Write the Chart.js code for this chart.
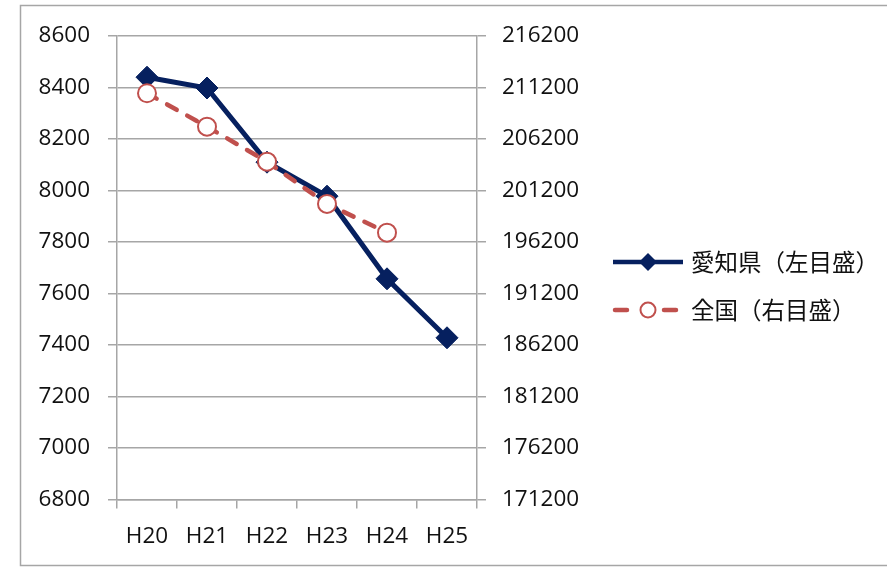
<!DOCTYPE html>
<html>
<head>
<meta charset="utf-8">
<script src="https://cdn.jsdelivr.net/npm/chart.js@4.4.1/dist/chart.umd.min.js"></script>
<style>
  html, body { margin: 0; padding: 0; background: #ffffff; }
  #wrap { position: relative; width: 887px; height: 567px; }
</style>
</head>
<body>
<div id="wrap"><canvas id="chart" width="887" height="567"></canvas></div>
<script>
// Fiscal years (Heisei) on the category axis
const categories = ['H20', 'H21', 'H22', 'H23', 'H24', 'H25'];
// Aichi prefecture, read on the left axis
const aichiValues = [8440, 8398, 8110, 7978, 7657, 7428];
// Nationwide total, read on the right axis (no H25 figure)
const nationalValues = [210640, 207400, 204000, 199900, 197110, null];
// Axis ranges: min, max, step
const leftAxisRange = [6800, 8600, 200];
const rightAxisRange = [171200, 216200, 5000];
// Legend captions
const seriesNames = ['愛知県（左目盛）', '全国（右目盛）'];

const NAVY = '#06205f';
const RED = '#c0504d';
const GRID = '#a6a6a6';
const TEXT = '#111111';
const NUM_FONT = { family: '"Open Sans", "Noto Sans", sans-serif', size: 22.5 };

// Outer frame and a hand-drawn legend showing line + marker samples
const framePlugin = {
  id: 'frameAndLegend',
  beforeDraw(chart) {
    const ctx = chart.ctx;
    ctx.save();
    ctx.fillStyle = '#ffffff';
    ctx.fillRect(0, 0, chart.width, chart.height);
    ctx.strokeStyle = GRID;
    ctx.lineWidth = 1.5;
    ctx.strokeRect(20.5, 5.5, chart.width + 10, 560);
    ctx.restore();
  },
  afterDraw(chart) {
    const ctx = chart.ctx;
    const rows = [262, 310];
    ctx.save();
    // Aichi sample: solid navy line with a diamond
    ctx.strokeStyle = NAVY;
    ctx.lineWidth = 4.5;
    ctx.beginPath();
    ctx.moveTo(613, rows[0]);
    ctx.lineTo(683, rows[0]);
    ctx.stroke();
    ctx.fillStyle = NAVY;
    ctx.beginPath();
    ctx.moveTo(648 - 9, rows[0]);
    ctx.lineTo(648, rows[0] - 9);
    ctx.lineTo(648 + 9, rows[0]);
    ctx.lineTo(648, rows[0] + 9);
    ctx.closePath();
    ctx.fill();
    // National sample: dashed red line with an open circle
    ctx.strokeStyle = RED;
    ctx.lineCap = 'round';
    ctx.lineWidth = 4.5;
    ctx.beginPath();
    ctx.moveTo(615, rows[1]);
    ctx.lineTo(627, rows[1]);
    ctx.moveTo(664, rows[1]);
    ctx.lineTo(676, rows[1]);
    ctx.stroke();
    ctx.fillStyle = '#ffffff';
    ctx.lineWidth = 2;
    ctx.beginPath();
    ctx.arc(648, rows[1], 7.5, 0, Math.PI * 2);
    ctx.fill();
    ctx.stroke();
    // Captions
    ctx.fillStyle = TEXT;
    ctx.font = '23.5px "Noto Sans CJK JP", sans-serif';
    ctx.textBaseline = 'middle';
    ctx.textAlign = 'left';
    ctx.fillText(seriesNames[0], 691, rows[0]);
    ctx.fillText(seriesNames[1], 691, rows[1]);
    ctx.restore();
  }
};

new Chart(document.getElementById('chart'), {
  type: 'line',
  data: {
    labels: categories,
    datasets: [
      {
        label: seriesNames[0],
        data: aichiValues,
        yAxisID: 'yLeft',
        order: 2,
        borderColor: NAVY,
        backgroundColor: NAVY,
        borderWidth: 5,
        tension: 0,
        pointStyle: 'rectRot',
        pointRadius: 11,
        pointBorderWidth: 1,
        pointBackgroundColor: NAVY,
        pointBorderColor: NAVY
      },
      {
        label: seriesNames[1],
        data: nationalValues,
        yAxisID: 'yRight',
        order: 1,
        borderColor: RED,
        backgroundColor: '#ffffff',
        borderWidth: 4.5,
        borderDash: [11, 12],
        borderCapStyle: 'round',
        tension: 0,
        spanGaps: false,
        pointStyle: 'circle',
        pointRadius: 9,
        pointBorderWidth: 2,
        pointBackgroundColor: '#ffffff',
        pointBorderColor: RED
      }
    ]
  },
  options: {
    responsive: false,
    animation: false,
    devicePixelRatio: 1,
    layout: { padding: { top: 36, right: 290, bottom: 0, left: 0 } },
    plugins: {
      legend: { display: false },
      tooltip: { enabled: false }
    },
    scales: {
      x: {
        type: 'category',
        offset: true,
        grid: {
          offset: true,
          drawOnChartArea: false,
          drawTicks: true,
          tickLength: 9,
          color: GRID,
          lineWidth: 1.5
        },
        border: { display: true, color: GRID, width: 1.5 },
        ticks: { color: TEXT, font: NUM_FONT, padding: 15, maxRotation: 0 },
        afterFit(scale) { scale.height = 67.5; }
      },
      yLeft: {
        type: 'linear',
        position: 'left',
        min: leftAxisRange[0],
        max: leftAxisRange[1],
        grid: {
          drawOnChartArea: true,
          drawTicks: true,
          tickLength: 9,
          color: GRID,
          lineWidth: 1.5
        },
        border: { display: true, color: GRID, width: 1.5 },
        ticks: {
          stepSize: leftAxisRange[2],
          color: TEXT,
          font: NUM_FONT,
          padding: 18,
          callback: (v) => String(v)
        },
        afterFit(scale) { scale.width = 117; }
      },
      yRight: {
        type: 'linear',
        position: 'right',
        min: rightAxisRange[0],
        max: rightAxisRange[1],
        grid: {
          drawOnChartArea: false,
          drawTicks: true,
          tickLength: 9,
          color: GRID,
          lineWidth: 1.5
        },
        border: { display: true, color: GRID, width: 1.5 },
        ticks: {
          stepSize: rightAxisRange[2],
          color: TEXT,
          font: NUM_FONT,
          padding: 16,
          callback: (v) => String(v)
        },
        afterFit(scale) { scale.width = 120; }
      }
    }
  },
  plugins: [framePlugin]
});
</script>
</body>
</html>
